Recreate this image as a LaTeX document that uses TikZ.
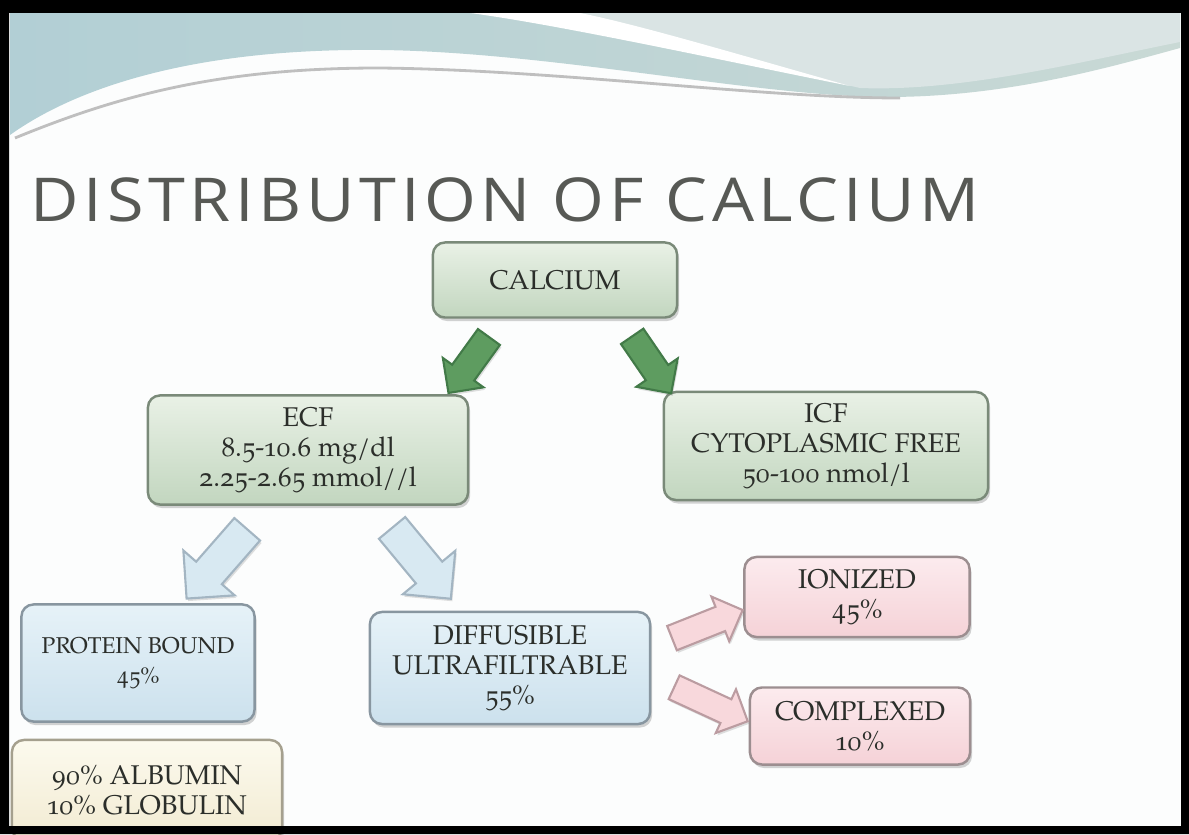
\documentclass[tikz,border=0pt]{standalone}
\usepackage{fontspec}
\setmainfont{TeX Gyre Pagella}[Numbers=OldStyle]
\newfontfamily\titlefont{Open Sans}[LetterSpace=7]
\usepackage{tikz}
\usetikzlibrary{shapes.arrows,shadows,positioning}

\definecolor{bandL}{HTML}{B2CFD5}
\definecolor{bandM}{HTML}{C5D0C6}
\definecolor{bandR}{HTML}{C9D9D5}
\definecolor{bandlight}{HTML}{DAE4E4}
\definecolor{paper}{HTML}{FCFDFD}
\definecolor{titlegray}{HTML}{575955}
\definecolor{txt}{HTML}{2B2E2A}
\definecolor{gline}{HTML}{7A8A79}
\definecolor{gtop}{HTML}{E9F1E6}
\definecolor{gbot}{HTML}{C2D6BF}
\definecolor{bline}{HTML}{8896A0}
\definecolor{btop}{HTML}{E6F2F8}
\definecolor{bbot}{HTML}{CCE1ED}
\definecolor{pline}{HTML}{9C8E90}
\definecolor{ptop}{HTML}{FCEBEE}
\definecolor{pbot}{HTML}{F5D2D7}
\definecolor{yline}{HTML}{A5A08E}
\definecolor{ytop}{HTML}{FCFAEE}
\definecolor{ybot}{HTML}{F2EBD2}
\definecolor{garrfill}{HTML}{5E9C60}
\definecolor{garrline}{HTML}{427A48}
\definecolor{barrfill}{HTML}{D8E9F2}
\definecolor{barrline}{HTML}{A3B5C2}
\definecolor{parrfill}{HTML}{F8D8DC}
\definecolor{parrline}{HTML}{BB9CA1}

\begin{document}
\begin{tikzpicture}[
    x=0.01cm, y=-0.01cm,
    box/.style={draw, rounded corners=0.12cm, line width=0.7pt, align=center, inner sep=0pt,
      font=\fontsize{7.7}{8.6}\selectfont, text=txt,
      drop shadow={shadow xshift=0.02cm, shadow yshift=-0.035cm, opacity=0.35}},
    gbox/.style={box, draw=gline, top color=gtop, bottom color=gbot},
    bbox/.style={box, draw=bline, top color=btop, bottom color=bbot},
    pbox/.style={box, draw=pline, top color=ptop, bottom color=pbot},
    ybox/.style={box, draw=yline, top color=ytop, bottom color=ybot},
    blk/.style={single arrow, midway, sloped, allow upside down, inner xsep=0pt,
      single arrow head indent=0pt, line width=0.6pt,
      drop shadow={shadow xshift=0.015cm, shadow yshift=-0.025cm, opacity=0.25}},
    garr/.style={blk, draw=garrline, fill=garrfill, inner ysep=0.125cm, single arrow head extend=0.115cm},
    barr/.style={blk, draw=barrline, fill=barrfill, inner ysep=0.16cm, single arrow head extend=0.17cm},
    parr/.style={blk, draw=parrline, fill=parrfill, inner ysep=0.12cm, single arrow head extend=0.11cm}
  ]
    \useasboundingbox (0,0) rectangle (1189,834);
    \fill[paper] (0,0) rectangle (1189,834);

    % slide background waves
    \shade[left color=bandL, middle color=bandM, right color=bandR]
      (10,13) -- (1180,13) -- (1180,48)
      .. controls (1100,70) and (1000,98) .. (880,97)
      .. controls (750,95) and (550,52) .. (380,50)
      .. controls (200,48) and (80,85) .. (10,135) -- cycle;
    \fill[bandlight] (560,13) .. controls (680,40) and (780,70) .. (860,88)
      .. controls (960,92) and (1080,62) .. (1180,42) -- (1180,13) -- cycle;
    \fill[white] (470,13) .. controls (560,25) and (720,60) .. (850,86)
      .. controls (740,55) and (640,25) .. (580,13) -- cycle;
    \draw[line width=0.8pt, color=black!25] (15,138) .. controls (120,95) and (220,68) .. (380,68)
      .. controls (560,70) and (760,98) .. (900,98);

    \node[anchor=base west, inner sep=0pt, text=titlegray, font=\titlefont\fontsize{17.2}{17}\selectfont]
      (title) at (30,222) {\scalebox{1.1}[1]{DISTRIBUTION OF CALCIUM}};

    \node[gbox, minimum width=2.44cm, minimum height=0.75cm] (calcium) at (555,280) {CALCIUM};
    \node[gbox, minimum width=3.2cm, minimum height=1.09cm] (ecf) at (308,450) {ECF\\8.5-10.6 mg/dl\\2.25-2.65 mmol//l};
    \node[gbox, minimum width=3.24cm, minimum height=1.08cm] (icf) at (826,446) {ICF\\CYTOPLASMIC FREE\\50-100 nmol/l};
    \node[bbox, minimum width=2.33cm, minimum height=1.17cm, font=\fontsize{6.5}{8.6}\selectfont] (protein) at (138,663) {PROTEIN BOUND\\45\%};
    \node[bbox, minimum width=2.8cm, minimum height=1.12cm] (diffusible) at (510,668) {DIFFUSIBLE\\ULTRAFILTRABLE\\55\%};
    \node[pbox, minimum width=2.25cm, minimum height=0.8cm] (ionized) at (857,597) {IONIZED\\45\%};
    \node[pbox, minimum width=2.2cm, minimum height=0.77cm] (complexed) at (860,726) {COMPLEXED\\10\%};
    \node[ybox, minimum width=2.7cm, minimum height=1.0cm] (albumin) at (147,790) {90\% ALBUMIN\\10\% GLOBULIN};

    % block arrows
    \path ([shift={(-63,14)}]calcium.south) -- ([shift={(-16,-8)}]ecf.north east) node[garr, minimum height=0.69cm] (c2e) {};
    \path ([shift={(74,13)}]calcium.south) -- ([shift={(4,-4)}]icf.north west) node[garr, minimum height=0.69cm] (c2i) {};
    \path ([shift={(-56,18)}]ecf.south) -- ([shift={(55,-12)}]protein.north) node[barr, minimum height=0.92cm] (e2p) {};
    \path ([shift={(79,16)}]ecf.south) -- ([shift={(-65,-19)}]diffusible.north) node[barr, minimum height=0.92cm] (e2d) {};
    \path ([shift={(16,-28)}]diffusible.east) -- ([shift={(-8,16)}]ionized.west) node[parr, minimum height=0.76cm] (d2i) {};
    \path ([shift={(18,17)}]diffusible.east) -- ([shift={(-8,-8)}]complexed.west) node[parr, minimum height=0.81cm] (d2c) {};

    % screen frame
    \fill[black, even odd rule] (0,0) rectangle (1189,834) (9,13) rectangle (1181,826);
\end{tikzpicture}
\end{document}
